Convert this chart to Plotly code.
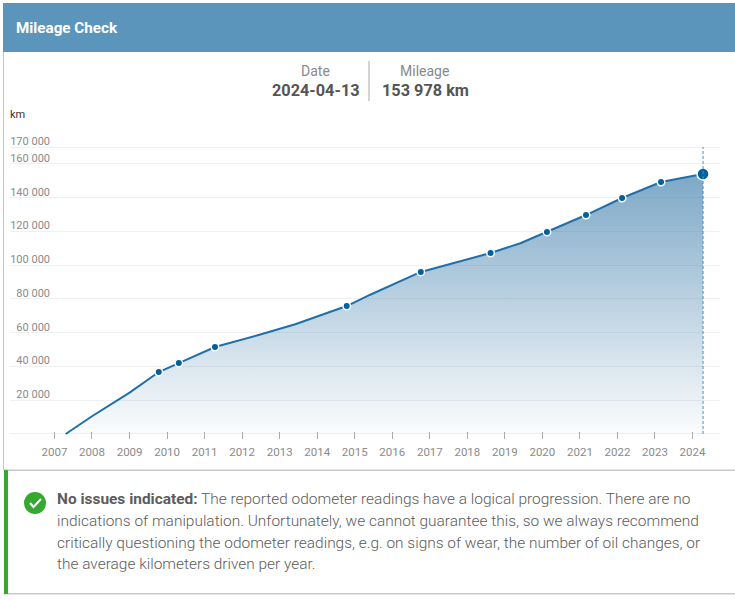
import plotly.graph_objects as go

# ---- data ----
line_dates = ["2007-04-20", "2008-01-01", "2009-01-01", "2009-10-12", "2010-04-25", "2011-04-12",
              "2012-06-01", "2013-06-01", "2014-10-15", "2015-06-01", "2016-10-05", "2017-10-01",
              "2018-08-15", "2019-06-01", "2020-02-15", "2021-03-01", "2022-02-15", "2023-03-01",
              "2024-04-13"]
line_km = [0, 10500, 24500, 36700, 42000, 51500, 58500, 65000, 75800, 82500, 96000, 101800,
           107200, 113000, 119700, 129700, 139800, 149300, 153978]
reading_dates = ["2009-10-12", "2010-04-25", "2011-04-12", "2014-10-15", "2016-10-05",
                 "2018-08-15", "2020-02-15", "2021-03-01", "2022-02-15", "2023-03-01"]
reading_km = [36700, 42000, 51500, 75800, 96000, 107200, 119700, 129700, 139800, 149300]
last_date = "2024-04-13"
last_km = 153978
y_ticks = [0, 20000, 40000, 60000, 80000, 100000, 120000, 140000, 160000, 170000]
y_labels = ["", "20 000", "40 000", "60 000", "80 000", "100 000", "120 000", "140 000", "160 000", "170 000"]
x_ticks = [f"{y}-01-01" for y in range(2007, 2025)]
x_labels = [str(y) for y in range(2007, 2025)]
body_lines = [
    "<b>No issues indicated:</b> The reported odometer readings have a logical progression. There are no",
    "indications of manipulation. Unfortunately, we cannot guarantee this, so we always recommend",
    "critically questioning the odometer readings, e.g. on signs of wear, the number of oil changes, or",
    "the average kilometers driven per year.",
]

W, H = 735, 600
FONT = "Roboto"
Y_RANGE = [-600, 170600]
px = lambda v: v / W
py = lambda v: 1 - v / H

fig = go.Figure()
fig.add_trace(go.Scatter(
    x=line_dates, y=line_km, mode="lines", fill="tozeroy",
    line=dict(color="#1f6fa8", width=2),
    fillgradient=dict(type="vertical", colorscale=[[0, "rgba(46,115,165,0.02)"], [1, "rgba(46,115,165,0.62)"]]),
    hoverinfo="skip", showlegend=False))
fig.add_trace(go.Scatter(
    x=[last_date, last_date], y=[0, 170000], mode="lines", yaxis="y2",
    line=dict(color="#4a90c0", width=1, dash="3px,2px"), hoverinfo="skip", showlegend=False))
fig.add_trace(go.Scatter(
    x=reading_dates, y=reading_km, mode="markers",
    marker=dict(size=7.5, color="#005f9e", line=dict(color="white", width=1.5)), showlegend=False))
fig.add_trace(go.Scatter(
    x=[last_date], y=[last_km], mode="markers",
    marker=dict(size=12, color="#005f9e", line=dict(color="white", width=1.5)), showlegend=False))

shapes = [
    dict(type="rect", x0=px(3), x1=px(735), y0=py(3), y1=py(52), fillcolor="#5b95bc", line_width=0),
    dict(type="rect", x0=px(3), x1=px(4), y0=py(52), y1=py(470), fillcolor="#c4c4c4", line_width=0),
    dict(type="rect", x0=px(4), x1=px(735), y0=py(469.5), y1=py(471), fillcolor="#c8c8c8", line_width=0),
    dict(type="rect", x0=px(4), x1=px(735), y0=py(593), y1=py(594.5), fillcolor="#c8c8c8", line_width=0),
    dict(type="rect", x0=px(4), x1=px(8), y0=py(470), y1=py(594), fillcolor="#35a82f", line_width=0),
    dict(type="line", x0=px(369), x1=px(369), y0=py(61), y1=py(101), line=dict(color="#a8a8a8", width=1)),
    dict(type="circle", x0=px(24), x1=px(46), y0=py(492), y1=py(514), fillcolor="#35a82f", line_width=0),
    dict(type="path", path=f"M {px(30)} {py(503)} L {px(33.5)} {py(507)} L {px(41)} {py(499)}",
         line=dict(color="white", width=2)),
]
for s in shapes:
    s.update(xref="paper", yref="paper", layer="below" if s["type"] == "rect" else "above")

def note(text, x, y, size, color, xanchor="left", weight=None):
    font = dict(family=FONT, size=size, color=color)
    if weight:
        font["weight"] = weight
    return dict(text=text, x=px(x), y=py(y), xref="paper", yref="paper", showarrow=False,
                xanchor=xanchor, yanchor="middle", align="left",
                font=font, borderpad=0, borderwidth=0)

notes = [
    note("<b>Mileage Check</b>", 16, 28, 15.2, "white"),
    note("Date", 315, 71, 14, "#8a8a8a", "center"),
    note("<b>2024-04-13</b>", 360, 90.5, 16.3, "#555555", "right"),
    note("Mileage", 424, 71, 14, "#8a8a8a", "center"),
    note("<b>153 978 km</b>", 426, 90.5, 16.3, "#555555", "center"),
    note("km", 10, 115, 11, "#333333"),
]
for text, y in zip(body_lines, [499, 521, 543, 564]):
    notes.append(note(text, 57, y, 15.45, "#5c5c5c", weight=300))

fig.update_layout(
    width=W, height=H, margin=dict(l=0, r=0, t=0, b=0, pad=0, autoexpand=False),
    paper_bgcolor="white", plot_bgcolor="white", showlegend=False,
    font=dict(family=FONT), shapes=shapes, annotations=notes,
    xaxis=dict(type="date", domain=[px(10), px(720)], range=["2005-10-25", "2024-09-25"],
               tickvals=x_ticks, ticktext=x_labels, ticks="outside", ticklen=7, tickwidth=1,
               tickcolor="#aaaaaa", tickfont=dict(size=11.5, color="#8a8a8a", family=FONT),
               ticklabelstandoff=3, showgrid=False, zeroline=False, showline=False,
               anchor="free", position=py(431), automargin=False),
    yaxis=dict(domain=[py(435), py(146)], range=Y_RANGE, tickvals=y_ticks, showticklabels=False, ticks="",
               showgrid=True, gridcolor="#f0f0f0", gridwidth=1, zeroline=False, showline=False,
               automargin=False),
    yaxis2=dict(overlaying="y", anchor="free", position=px(50), side="left", range=Y_RANGE,
                tickvals=y_ticks, ticktext=y_labels, ticklabelshift=-6, ticks="",
                tickfont=dict(size=11, color="#8a8a8a", family=FONT),
                showgrid=False, zeroline=False, showline=False, automargin=False),
)
fig.write_html("out.html", post_script="document.body.style.margin='0';", config={"displayModeBar": False})
